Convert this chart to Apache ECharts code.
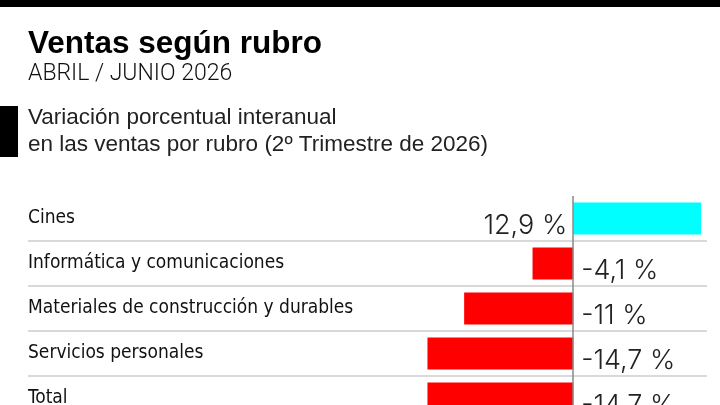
<!DOCTYPE html>
<html>
<head>
<meta charset="utf-8">
<script src="https://cdn.jsdelivr.net/npm/echarts@6/dist/echarts.min.js"></script>
<style>
html, body { margin: 0; padding: 0; background: #fff; }
#chart { width: 720px; height: 405px; }
</style>
</head>
<body>
<div id="chart"></div>
<script>
// rubros y variación interanual (%)
var rubros = ['Cines', 'Informática y comunicaciones', 'Materiales de construcción y durables', 'Servicios personales', 'Total'];
var variacion = [12.9, -4.1, -11, -14.7, -14.7];

var colorPos = '#00ffff';
var colorNeg = '#ff0000';

var barData = variacion.map(function (v) {
    return {
        value: v,
        itemStyle: { color: v >= 0 ? colorPos : colorNeg },
        label: { position: v >= 0 ? 'left' : 'right', distance: v >= 0 ? 6 : 8 }
    };
});

var myChart = echarts.init(document.getElementById('chart'));
var option = {
    backgroundColor: '#fff',
    animation: false,
    graphic: [
        { type: 'rect', shape: { x: 0, y: 0, width: 720, height: 7 }, style: { fill: '#000' } },
        { type: 'rect', shape: { x: 0, y: 106, width: 18, height: 51 }, style: { fill: '#000' } },
        { type: 'text', left: 28, top: 28, style: { text: 'Ventas según rubro', font: 'bold 31.5px "Liberation Sans"', fill: '#000' } },
        { type: 'text', left: 28, top: 63, style: { text: 'ABRIL / JUNIO 2026', font: '300 23px Roboto', fill: '#111' } },
        { type: 'text', left: 28, top: 106, style: { text: 'Variación porcentual interanual', font: '22.5px "Liberation Sans"', fill: '#222' } },
        { type: 'text', left: 28, top: 133, style: { text: 'en las ventas por rubro (2º Trimestre de 2026)', font: '22.5px "Liberation Sans"', fill: '#222' } }
    ],
    grid: { left: 28, right: 13, top: 196, height: 225, outerBoundsMode: 'none', containLabel: false },
    xAxis: {
        type: 'value',
        min: -55,
        max: 13.5,
        show: false
    },
    yAxis: {
        type: 'category',
        data: rubros,
        inverse: true,
        axisLine: { show: false },
        axisTick: { show: false },
        axisLabel: {
            inside: true,
            margin: 0,
            align: 'left',
            fontFamily: '"DejaVu Sans Condensed", "Liberation Sans Narrow", sans-serif',
            fontSize: 19,
            color: '#111'
        },
        splitLine: {
            show: true,
            interval: function (i) { return i > 0; },
            lineStyle: { color: '#cccccc', width: 1.5 }
        }
    },
    series: [{
        type: 'bar',
        data: barData,
        barWidth: 32,
        label: {
            show: true,
            offset: [0, 7],
            fontFamily: 'Inter',
            fontWeight: 300,
            fontSize: 27,
            color: '#222',
            formatter: function (p) {
                return String(p.value).replace('.', ',') + ' %';
            }
        },
        markLine: {
            silent: true,
            symbol: 'none',
            label: { show: false },
            lineStyle: { color: '#888', width: 1.5, type: 'solid' },
            data: [{ xAxis: 0 }]
        }
    }]
};
myChart.setOption(option);
</script>
</body>
</html>
